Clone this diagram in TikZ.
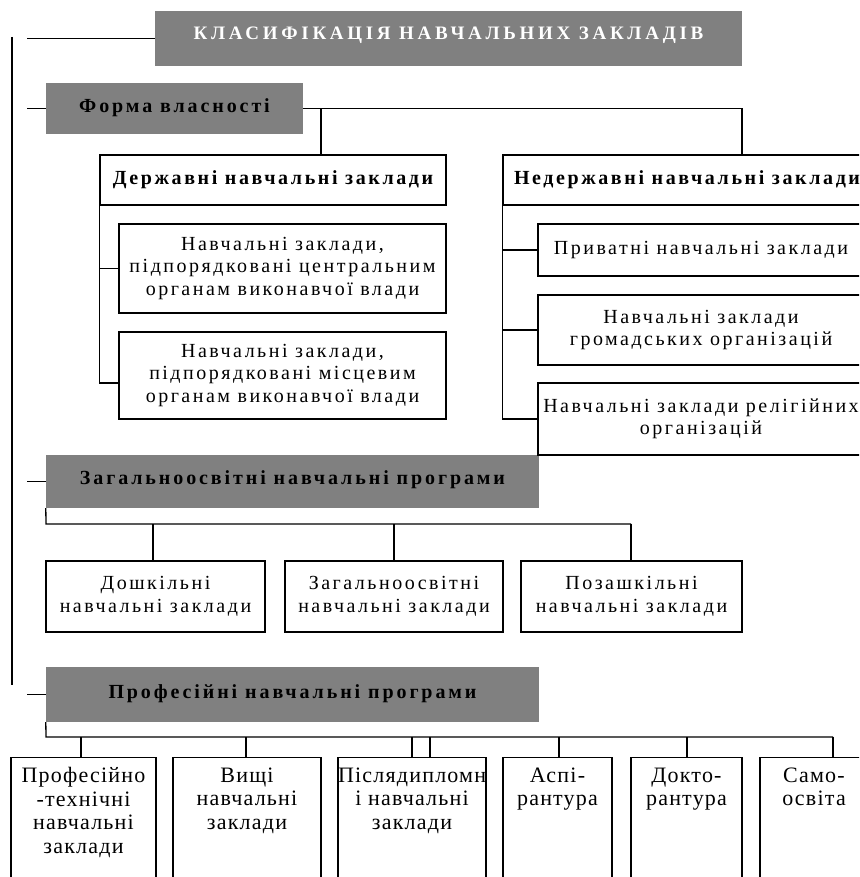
\documentclass[tikz,border=0pt]{standalone}
\usepackage{fontspec}
\setmainfont{Liberation Serif}
\newfontfamily\bodyfont[LetterSpace=12.5]{Liberation Serif}
\newfontfamily\botfont[LetterSpace=5.5]{Liberation Serif}
\newfontfamily\hdrfont[LetterSpace=14.5]{Liberation Serif}
\newfontfamily\subfont[LetterSpace=13]{Liberation Serif}
\newfontfamily\ttlfont[LetterSpace=19.5]{Liberation Serif}
\definecolor{hdrgray}{HTML}{808080}
\tikzset{
  conn/.style={line width=1.3pt},
  hdr/.style={fill=hdrgray, draw=none, inner sep=0pt, align=center,
    font=\hdrfont\bfseries\fontsize{20}{22}\selectfont},
  ttl/.style={hdr, text=white, font=\ttlfont\bfseries\fontsize{19}{22}\selectfont},
  box/.style={draw, line width=1.3pt, fill=white, inner sep=0pt, align=center,
    font=\bodyfont\fontsize{20}{22.5}\selectfont},
  sub/.style={box, font=\subfont\bfseries\fontsize{20}{22}\selectfont},
  pbox/.style={draw, line width=1.3pt, fill=white, inner xsep=0pt, inner ysep=10pt,
    anchor=north, font=\botfont\fontsize{22}{23.5}\selectfont}
}
\begin{document}
\begin{tikzpicture}[x=1pt,y=-1pt]
\useasboundingbox (0,0) rectangle (859,877);
\clip (0,0) rectangle (859,877);
% spine
\coordinate (sp1) at (12,37);
\coordinate (sp2) at (12,685);
\draw[conn] (sp1) -- (sp2);
% headers
\node[ttl, minimum width=587pt, minimum height=55pt, text depth=10pt] (title) at (448.5,38.5) {КЛАСИФІКАЦІЯ НАВЧАЛЬНИХ ЗАКЛАДІВ};
\node[hdr, minimum width=257pt, minimum height=51pt, text depth=6pt] (forma) at (174.5,108.5) {Форма власності};
\node[hdr, minimum width=493pt, minimum height=53pt, text depth=7pt] (zag) at (292.5,481.5) {Загальноосвітні навчальні програми};
\node[hdr, minimum width=493pt, minimum height=55pt, text depth=6pt] (prof) at (292.5,694.5) {Професійні навчальні програми};
% stubs
\coordinate (s1) at (27,38.5);
\coordinate (s2) at (27,108.5);
\coordinate (s3) at (27,481.5);
\coordinate (s4) at (27,694.5);
\draw[conn] (s1) -- (title.west);
\draw[conn] (s2) -- (forma.west);
\draw[conn] (s3) -- (zag.west);
\draw[conn] (s4) -- (prof.west);
% ownership
\node[sub, minimum width=346pt, minimum height=50pt] (derzh) at (273,180) {Державні навчальні заклади};
\node[box, minimum width=327pt, minimum height=89pt] (d1) at (282.5,268.5) {Навчальні заклади,\\підпорядковані центральним\\органам виконавчої влади};
\node[box, minimum width=327pt, minimum height=87pt] (d2) at (282.5,375.5) {Навчальні заклади,\\підпорядковані місцевим\\органам виконавчої влади};
\node[sub, minimum width=368pt, minimum height=50pt] (nederzh) at (687,180) {Недержавні навчальні заклади};
\node[box, minimum width=326pt, minimum height=52pt] (n1) at (701,250) {Приватні навчальні заклади};
\node[box, minimum width=326pt, minimum height=70pt] (n2) at (701,330) {Навчальні заклади\\громадських організацій};
\node[box, minimum width=326pt, minimum height=72pt] (n3) at (701,419) {Навчальні заклади релігійних\\організацій};
\coordinate (fb1) at (321,108.5);
\coordinate (fb2) at (742,108.5);
\draw[conn] (forma.east) -- (fb2) -- (fb2|-nederzh.north);
\draw[conn] (fb1) -- (fb1|-derzh.north);
\draw[conn] (derzh.south west) |- (d2.west|-0,383);
\draw[conn] (derzh.south west|-d1.west) -- (d1.west);
\draw[conn] (nederzh.south west) |- (n3.west);
\draw[conn] (nederzh.south west|-n1.west) -- (n1.west);
\draw[conn] (nederzh.south west|-n2.west) -- (n2.west);
% general education
\node[box, minimum width=219pt, minimum height=71pt] (z1) at (155.5,596.5) {Дошкільні\\навчальні заклади};
\node[box, minimum width=218pt, minimum height=71pt] (z2) at (394,596.5) {Загальноосвітні\\навчальні заклади};
\node[box, minimum width=221pt, minimum height=71pt] (z3) at (631.5,596.5) {Позашкільні\\навчальні заклади};
\coordinate (zb0) at (46,524);
\coordinate (zb1) at (153,524);
\coordinate (zb2) at (394,524);
\coordinate (zb3) at (631,524);
\draw[conn] (zag.south west) -- (zb0) -- (zb3);
\draw[conn] (zb1) -- (zb1|-z1.north);
\draw[conn] (zb2) -- (zb2|-z2.north);
\draw[conn] (zb3) -- (zb3|-z3.north);
% professional
\node[pbox] (p1) at (83.5,757) {\parbox[t][150pt][t]{145pt}{\centering Професійно\\-технічні\\навчальні\\заклади}};
\node[pbox] (p2) at (247,757) {\parbox[t][150pt][t]{148pt}{\centering Вищі\\навчальні\\заклади}};
\node[pbox] (p3) at (412,757) {\parbox[t][150pt][t]{148pt}{\centering Післядипломн\\і навчальні\\заклади}};
\node[pbox] (p4) at (557.5,757) {\parbox[t][150pt][t]{109pt}{\centering Аспі-\\рантура}};
\node[pbox] (p5) at (686.5,757) {\parbox[t][150pt][t]{111pt}{\centering Докто-\\рантура}};
\node[pbox] (p6) at (814,757) {\parbox[t][150pt][t]{108pt}{\centering Само-\\освіта}};
\coordinate (pb0) at (46,737);
\coordinate (pb1) at (81,737);
\coordinate (pb2) at (246,737);
\coordinate (pb3) at (412,737);
\coordinate (pb3b) at (430,737);
\coordinate (pb4) at (559,737);
\coordinate (pb5) at (687,737);
\coordinate (pb6) at (833,737);
\draw[conn] (prof.south west) -- (pb0) -- (pb6);
\draw[conn] (pb1) -- (pb1|-p1.north);
\draw[conn] (pb2) -- (pb2|-p2.north);
\draw[conn] (pb3) -- (pb3|-p3.north);
\draw[conn] (pb3b) -- (pb3b|-p3.north);
\draw[conn] (pb4) -- (pb4|-p4.north);
\draw[conn] (pb5) -- (pb5|-p5.north);
\draw[conn] (pb6) -- (pb6|-p6.north);
\end{tikzpicture}
\end{document}
